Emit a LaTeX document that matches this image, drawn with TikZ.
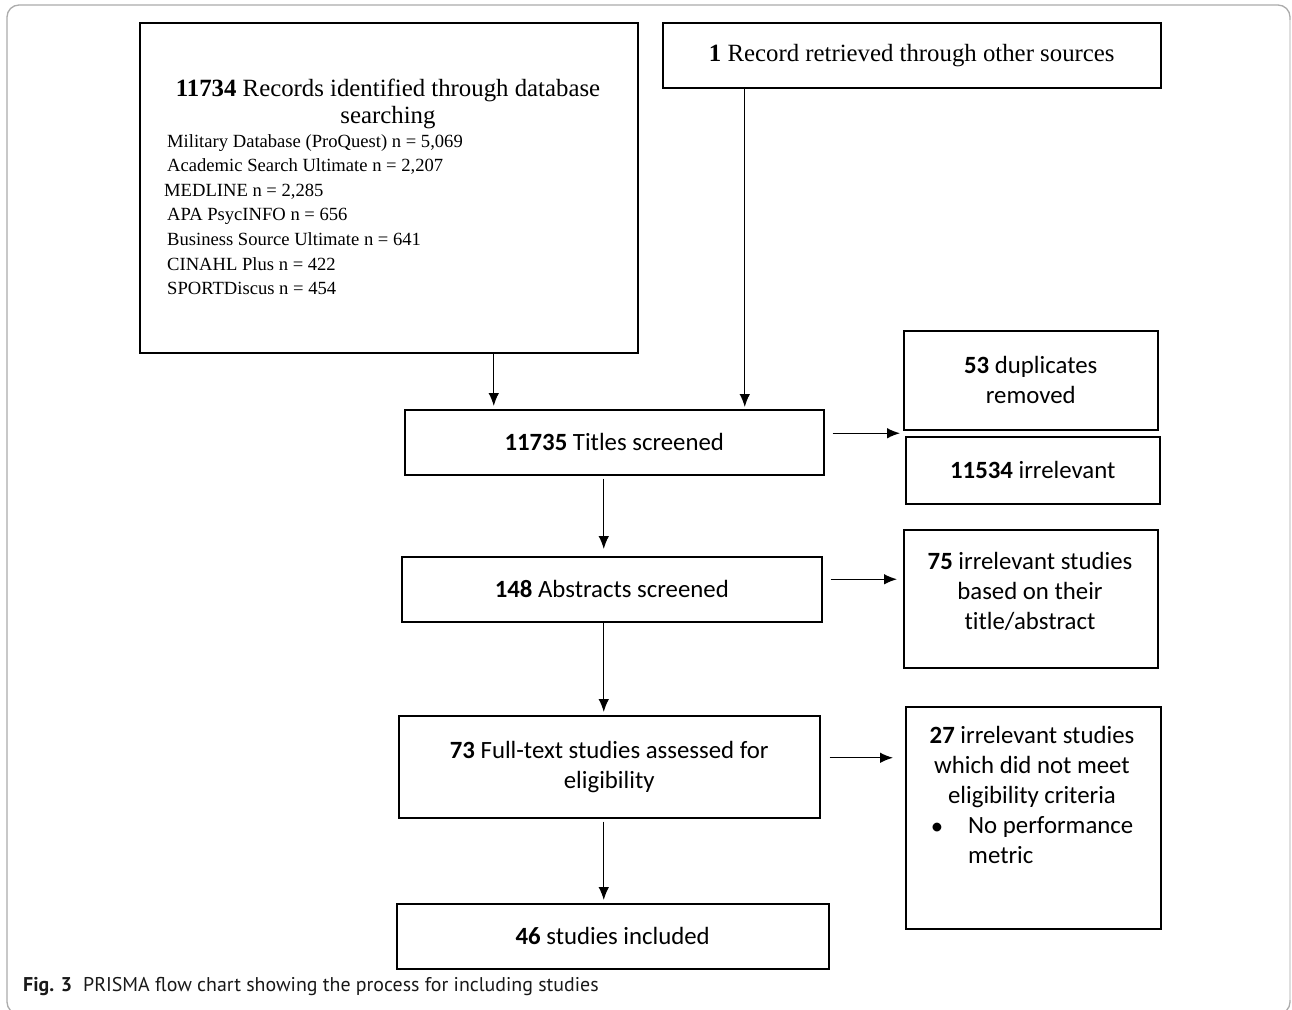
\documentclass[tikz,border=0pt]{standalone}
\usepackage{fontspec}
\setmainfont{Liberation Serif}
\newfontfamily\calfont[Ligatures=NoCommon]{Carlito}
\newfontfamily\capfont{PT Sans}
\usetikzlibrary{arrows.meta}
\begin{document}
\begin{tikzpicture}[x=1pt,y=-1pt,
  box/.style={draw=black, line width=1.5pt, inner sep=0pt, anchor=north west},
  ctext/.style={font=\calfont\fontsize{24.8}{30}\selectfont, align=center, inner sep=0pt},
  arr/.style={draw=black, line width=1.2pt, -{Latex[length=13pt,width=10.5pt]}},
]
\useasboundingbox (0,0) rectangle (1292,1009);
\fill[white] (0,0) rectangle (1292,1009);
% outer frame
\begin{scope}
\clip (0,0) rectangle (1292,1009);
\draw[gray!65, line width=1.3pt, rounded corners=12pt] (7,5) rectangle (1290,1014);
\draw[white!75!gray, line width=1.5pt] (1290,20) -- (1290,1000);
\end{scope}

% boxes
\node[box, minimum width=498pt, minimum height=330pt] (rec) at (139,22) {};
\node[box, minimum width=498pt, minimum height=65pt, font=\fontsize{24.8}{28}\selectfont] (oth) at (662,22) {\textbf{1} Record retrieved through other sources};
\node[box, minimum width=419pt, minimum height=65pt, ctext] (tit) at (404,409) {\textbf{11735} Titles screened};
\node[box, minimum width=254pt, minimum height=99pt, ctext] (dup) at (903,330) {\textbf{53} duplicates\\removed};
\node[box, minimum width=254pt, minimum height=67pt, ctext] (irr) at (905,436) {\textbf{11534} irrelevant};
\node[box, minimum width=420pt, minimum height=65pt, ctext] (abs) at (401,556) {\textbf{148} Abstracts screened};
\node[box, minimum width=254pt, minimum height=138pt] (r75) at (903,529) {};
\node[box, minimum width=421pt, minimum height=102pt, ctext] (ft) at (398,715) {\textbf{73} Full-text studies assessed for\\eligibility};
\node[box, minimum width=255pt, minimum height=222pt] (r27) at (905,706) {};
\node[box, minimum width=432pt, minimum height=65pt, ctext] (inc) at (396,903) {\textbf{46} studies included};

% texts in records box
\node[inner sep=0pt, align=center, font=\fontsize{24.8}{26.5}\selectfont] (rectitle) at (388,104) {\textbf{11734} Records identified through database\\searching};
\node[inner sep=0pt, align=left, anchor=north west, font=\fontsize{18.6}{24.6}\selectfont] (reclist) at (167,134) {Military Database (ProQuest) n = 5,069\\
Academic Search Ultimate n = 2,207\\
\hspace*{-3pt}MEDLINE n = 2,285\\
APA PsycINFO n = 656\\
Business Source Ultimate n = 641\\
CINAHL Plus n = 422\\
SPORTDiscus n = 454};

% texts in side boxes
\node[ctext] (t75) at (1030,591) {\textbf{75} irrelevant studies\\based on their\\title/abstract};
\node[ctext] (t27) at (1032,767) {\textbf{27} irrelevant studies\\which did not meet\\eligibility criteria};
\node[ctext] (bul) at (937,829) {\textbullet};
\node[ctext, align=left, anchor=north west] (t27b) at (968,816) {No performance\\metric};

% caption
\node[inner sep=0pt, anchor=west, text=black!90, font=\capfont\fontsize{19.9}{22}\selectfont] (cap) at (23,987) {\textbf{Fig. 3}\hspace{0.55em}PRISMA flow chart showing the process for including studies};

% connectors
\draw[arr, shorten >=3pt] ([xshift=105pt]rec.south) -- ([xshift=105pt]rec.south |- tit.north);
\draw[arr, shorten >=2pt] ([xshift=-167pt]oth.south) -- ([xshift=-167pt]oth.south |- tit.north);
\draw[arr, shorten >=3pt] ([xshift=8pt,yshift=9pt]tit.east) -- ([yshift=9pt]tit.east -| dup.west);
\draw[arr, shorten >=7pt] ([xshift=-10.5pt,yshift=-3pt]tit.south) -- ([xshift=-10.5pt]tit.south |- abs.north);
\draw[arr, shorten >=6pt] ([xshift=8pt,yshift=10pt]abs.east) -- ([yshift=10pt]abs.east -| r75.west);
\draw[arr, shorten >=3pt] ([xshift=-8pt]abs.south) -- ([xshift=-8pt]abs.south |- ft.north);
\draw[arr, shorten >=12pt] ([xshift=9pt,yshift=9pt]ft.east) -- ([yshift=9pt]ft.east -| r27.west);
\draw[arr, shorten >=3pt] ([xshift=-5.5pt,yshift=-3pt]ft.south) -- ([xshift=-5.5pt]ft.south |- inc.north);
\end{tikzpicture}
\end{document}
